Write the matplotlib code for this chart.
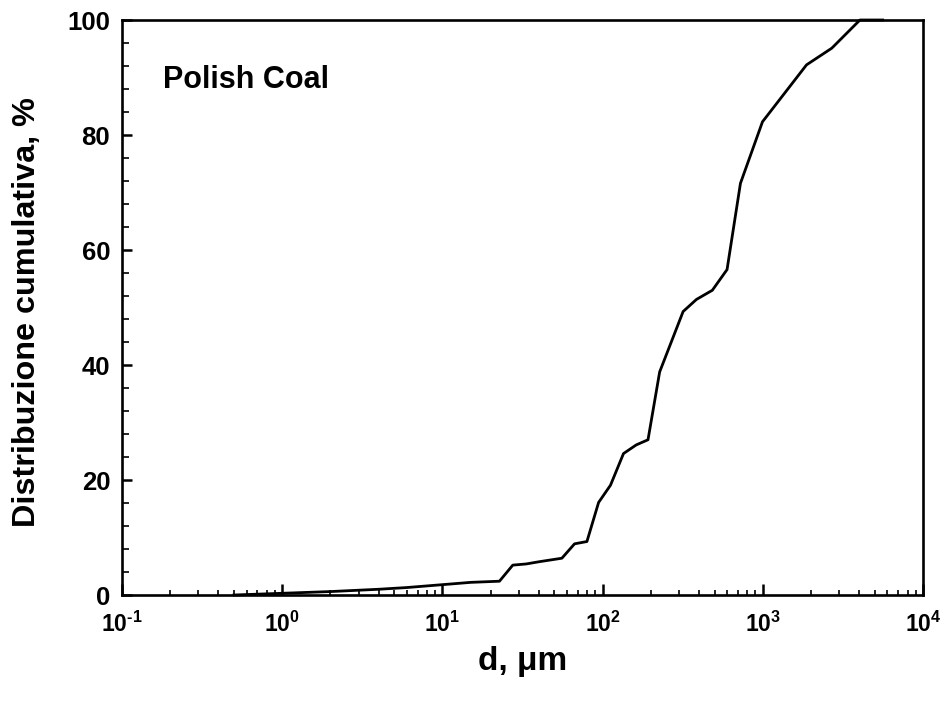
import matplotlib
matplotlib.use("Agg")
import matplotlib.pyplot as plt
from matplotlib.ticker import LogLocator, MultipleLocator, NullFormatter

plt.rcParams['font.family'] = ['Liberation Sans', 'DejaVu Sans']
plt.rcParams['font.weight'] = 'bold'
plt.rcParams['mathtext.fontset'] = 'custom'
plt.rcParams['mathtext.rm'] = 'Liberation Sans:bold'
plt.rcParams['mathtext.bf'] = 'Liberation Sans:bold'
plt.rcParams['mathtext.default'] = 'bf'

# diametro delle particelle (um) e distribuzione cumulativa (%)
diametro = [0.5, 1.0, 2.0, 4.0, 6.0, 10.0, 15.0, 22.7, 27.5, 33.3, 40.4,
            55.7, 66.8, 79.8, 94.4, 112, 135, 162, 192, 227, 318, 385,
            484, 598, 725, 995, 1874, 2694, 4037, 5600]
cumulativa = [0.0, 0.3, 0.6, 1.0, 1.3, 1.8, 2.2, 2.4, 5.2, 5.4, 5.8,
              6.4, 8.9, 9.3, 16.1, 19.1, 24.6, 26.1, 27.0, 38.8, 49.3, 51.4,
              53.0, 56.6, 71.6, 82.3, 92.2, 95.1, 100.0, 100.0]

x_ticks = [1e-1, 1e0, 1e1, 1e2, 1e3, 1e4]
x_labels = [r'$10^{\text{-}1}$', '$10^{0}$', '$10^{1}$', '$10^{2}$', '$10^{3}$', '$10^{4}$']
y_ticks = [0, 20, 40, 60, 80, 100]

fig = plt.figure(figsize=(9.47, 7.02), dpi=100)
ax = fig.add_axes([0.1288, 0.1524, 0.8459, 0.8191])

ax.plot(diametro, cumulativa, color='black', lw=2.0, clip_on=False)

ax.set_xscale('log')
ax.set_xlim(0.1, 1e4)
ax.set_ylim(0, 100)
ax.set_xticks(x_ticks)
ax.set_xticklabels(x_labels)
ax.xaxis.set_minor_locator(LogLocator(base=10, subs=range(2, 10), numticks=20))
ax.xaxis.set_minor_formatter(NullFormatter())
ax.set_yticks(y_ticks)
ax.yaxis.set_minor_locator(MultipleLocator(4))

for s in ax.spines.values():
    s.set_linewidth(1.9)

ax.tick_params(which='major', direction='in', length=8, width=1.8)
ax.tick_params(axis='x', which='minor', direction='in', length=3.5, width=1.2)
ax.tick_params(axis='y', which='minor', direction='in', length=5, width=1.2)
ax.tick_params(axis='y', which='major', labelsize=18.5, pad=8.5, length=7)
ax.tick_params(axis='x', which='major', labelsize=16.5, pad=12)

ax.set_xlabel('d, μm', fontsize=24, fontweight='bold', va='top')
ax.xaxis.set_label_coords(0.5, -0.088)
ax.set_ylabel('Distribuzione cumulativa, %', fontsize=23.3, fontweight='bold')
ax.yaxis.set_label_coords(-0.1, 0.492)

ax.text(0.0512, 0.882, 'Polish Coal', transform=ax.transAxes, fontsize=22,
        fontweight='bold', va='baseline', ha='left')

fig.savefig('out.png', dpi=100)
